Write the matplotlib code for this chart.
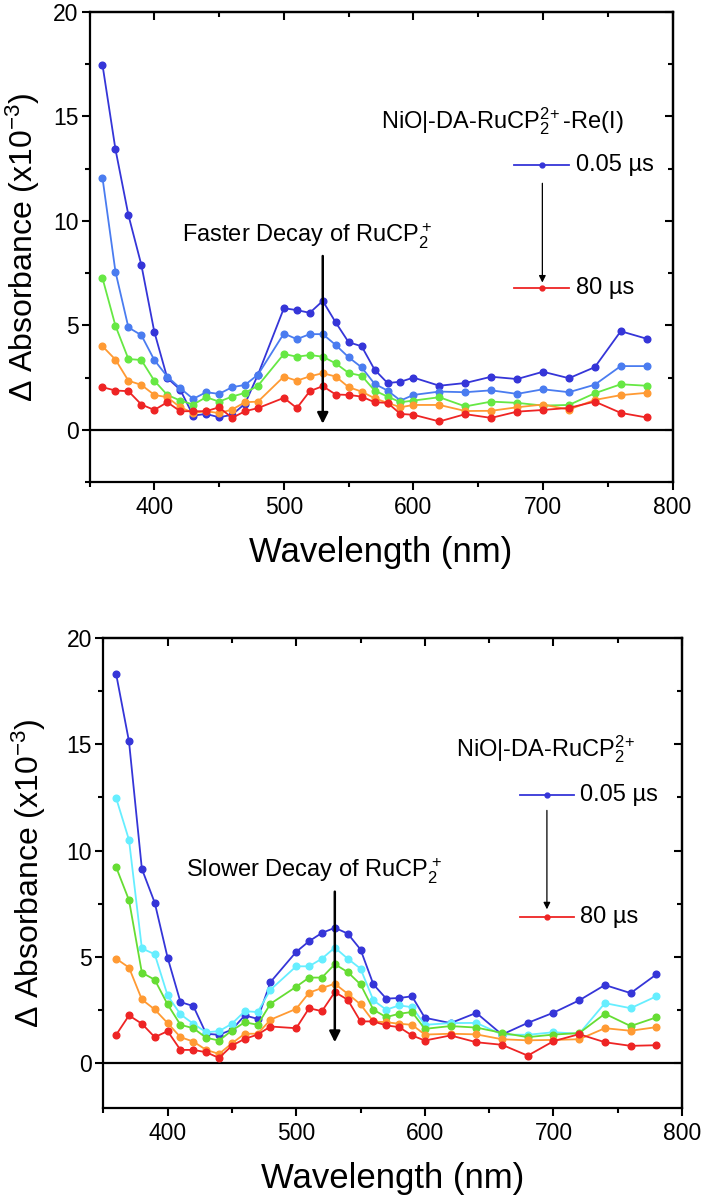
import matplotlib
matplotlib.use("Agg")
import matplotlib.pyplot as plt
from matplotlib.ticker import MultipleLocator

plt.rcParams['font.family'] = ['Liberation Sans', 'DejaVu Sans']
plt.rcParams['mathtext.fontset'] = 'custom'
plt.rcParams['mathtext.rm'] = 'Liberation Sans'

# wavelengths (nm), same grid for both panels
wl = [360, 370, 380, 390, 400, 410, 420, 430, 440, 450, 460, 470, 480,
      500, 510, 520, 530, 540, 550, 560, 570, 580, 590, 600,
      620, 640, 660, 680, 700, 720, 740, 760, 780]

# top panel: NiO|-DA-RuCP2(2+)-Re(I)
top_005 = [17.47, 13.43, 10.28, 7.89, 4.69, 2.48, 1.92, 0.68, 0.76, 0.6, 0.72, 1.25, 2.64,
           5.82, 5.73, 5.6, 6.17, 5.14, 4.19, 4.0, 2.88, 2.24, 2.3, 2.5,
           2.11, 2.24, 2.54, 2.43, 2.78, 2.47, 3.0, 4.72, 4.36]
top_b = [12.06, 7.57, 4.9, 4.53, 3.34, 2.55, 1.99, 1.48, 1.8, 1.72, 2.04, 2.15, 2.64,
         4.61, 4.34, 4.58, 4.58, 4.06, 3.47, 2.99, 2.2, 1.88, 1.4, 1.67,
         1.83, 1.8, 1.89, 1.72, 1.94, 1.8, 2.16, 3.05, 3.05]
top_c = [7.26, 4.98, 3.39, 3.34, 2.35, 1.67, 1.4, 1.21, 1.56, 1.35, 1.59, 1.77, 2.11,
         3.63, 3.5, 3.58, 3.5, 3.18, 2.72, 2.59, 1.88, 1.59, 1.32, 1.4,
         1.56, 1.12, 1.35, 1.29, 1.16, 1.19, 1.75, 2.18, 2.11]
top_d = [4.0, 3.36, 2.35, 2.15, 1.67, 1.56, 1.08, 0.81, 0.89, 0.8, 0.97, 1.32, 1.35,
         2.55, 2.35, 2.56, 2.71, 2.55, 2.04, 1.83, 1.51, 1.29, 1.08, 1.19,
         1.19, 0.9, 0.91, 1.08, 1.21, 0.97, 1.43, 1.66, 1.77]
top_80 = [2.04, 1.88, 1.85, 1.21, 0.95, 1.32, 0.89, 0.89, 0.89, 1.08, 0.57, 0.89, 1.04,
          1.53, 1.04, 1.85, 2.09, 1.69, 1.67, 1.59, 1.32, 1.29, 0.76, 0.72,
          0.4, 0.75, 0.57, 0.87, 0.95, 1.05, 1.35, 0.81, 0.59]

# bottom panel: NiO|-DA-RuCP2(2+)
bot_005 = [18.3, 15.13, 9.14, 7.55, 4.97, 2.88, 2.69, 1.39, 1.34, 1.58, 2.25, 2.09, 3.82,
           5.24, 5.74, 6.13, 6.37, 6.1, 5.35, 3.71, 3.04, 3.07, 3.15, 2.14,
           1.89, 2.37, 1.35, 1.9, 2.38, 2.96, 3.68, 3.3, 4.18]
bot_b = [12.47, 10.5, 5.4, 5.13, 3.19, 2.3, 1.86, 1.46, 1.51, 1.86, 2.45, 2.41, 3.46,
         4.56, 4.56, 4.92, 5.44, 4.92, 4.45, 2.96, 2.52, 2.72, 2.64, 1.81,
         1.89, 1.9, 1.35, 1.34, 1.46, 1.39, 2.83, 2.59, 3.15]
bot_c = [9.22, 7.67, 4.26, 3.93, 2.77, 1.81, 1.65, 1.2, 1.07, 1.54, 1.93, 1.81, 2.8,
         3.6, 4.03, 4.03, 4.66, 4.29, 3.71, 2.52, 2.17, 2.33, 2.41, 1.62,
         1.75, 1.68, 1.43, 1.23, 1.35, 1.42, 2.33, 1.75, 2.16]
bot_d = [4.92, 4.5, 3.0, 2.53, 1.89, 1.23, 1.02, 0.63, 0.44, 0.94, 1.39, 1.39, 2.05,
         2.56, 3.32, 3.54, 3.74, 3.27, 2.77, 1.97, 1.93, 1.86, 1.81, 1.35,
         1.39, 1.36, 1.13, 1.08, 1.1, 1.13, 1.65, 1.53, 1.7]
bot_80 = [1.34, 2.25, 1.86, 1.23, 1.51, 0.63, 0.63, 0.52, 0.25, 0.83, 1.15, 1.35, 1.73,
          1.65, 2.59, 2.45, 3.35, 2.99, 1.97, 1.97, 1.78, 1.7, 1.31, 1.07,
          1.31, 0.99, 0.87, 0.36, 1.04, 1.37, 0.99, 0.82, 0.85]

top_colors = ['#3535d8', '#4a7cf0', '#66e844', '#ff9a33', '#ee2424']
bot_colors = ['#3535d8', '#66eeff', '#66dd33', '#ff9a33', '#ee2424']

TICK_FS = 16.5
ANN_FS = 17


def style_axes(ax, ylow, ylab_x):
    ax.set_xlim(350, 800)
    ax.set_ylim(ylow, 20)
    ax.set_xticks([400, 500, 600, 700, 800])
    ax.set_yticks([0, 5, 10, 15, 20])
    ax.xaxis.set_minor_locator(MultipleLocator(50))
    ax.yaxis.set_minor_locator(MultipleLocator(2.5))
    ax.tick_params(which='major', direction='out', length=6, width=1.5,
                   labelsize=TICK_FS, pad=4)
    ax.tick_params(which='minor', direction='out', length=3.5, width=1.5)
    ax.tick_params(axis='y', pad=2)
    for sp in ax.spines.values():
        sp.set_linewidth(1.6)
    # mirrored ticks pointing inwards on top/right
    sx = ax.secondary_xaxis('top')
    sx.set_xticks([400, 500, 600, 700, 800])
    sx.xaxis.set_minor_locator(MultipleLocator(50))
    sx.tick_params(which='major', direction='in', length=6, width=1.5, labeltop=False)
    sx.tick_params(which='minor', direction='in', length=3.5, width=1.5)
    sy = ax.secondary_yaxis('right')
    sy.set_yticks([0, 5, 10, 15, 20])
    sy.yaxis.set_minor_locator(MultipleLocator(2.5))
    sy.tick_params(which='major', direction='in', length=6, width=1.5, labelright=False)
    sy.tick_params(which='minor', direction='in', length=3.5, width=1.5)
    for s in (sx, sy):
        for sp in s.spines.values():
            sp.set_linewidth(1.6)
    ax.axhline(0, color='k', lw=1.6, zorder=1)
    ax.set_xlabel('Wavelength (nm)', fontsize=25, labelpad=12)
    ax.set_ylabel(r'Δ Absorbance (x10$\mathregular{^{-3}}$)', fontsize=23)
    ax.yaxis.set_label_coords(ylab_x, 0.5)


def draw_panel(ax, series, colors, ylow, ylab_x, title, title_xy, decay_text, decay_xy,
               arrow_top, arrow_tip, leg_x, leg_dot, leg_y, leg_arrow):
    style_axes(ax, ylow, ylab_x)
    for ys, c in zip(series, colors):
        ax.plot(wl, ys, '-o', color=c, lw=1.3, ms=4.8, zorder=3)
    ax.text(title_xy[0], title_xy[1], title, fontsize=ANN_FS, ha='center', va='baseline')
    ax.text(decay_xy[0], decay_xy[1], decay_text, fontsize=ANN_FS, ha='center', va='baseline')
    ax.annotate('', xy=(530, arrow_tip), xytext=(530, arrow_top),
                arrowprops=dict(arrowstyle='-|>', lw=1.8, color='k', mutation_scale=16,
                                shrinkA=0, shrinkB=0), zorder=5)
    # small legend
    ax.plot(leg_x, [leg_y[0], leg_y[0]], color=colors[0], lw=1.3)
    ax.plot([leg_dot], [leg_y[0]], 'o', color=colors[0], ms=3.5)
    ax.plot(leg_x, [leg_y[1], leg_y[1]], color=colors[-1], lw=1.3)
    ax.plot([leg_dot], [leg_y[1]], 'o', color=colors[-1], ms=3.5)
    ax.text(leg_x[1] + 5, leg_y[0], '0.05 µs', fontsize=ANN_FS, va='center')
    ax.text(leg_x[1] + 5, leg_y[1], '80 µs', fontsize=ANN_FS, va='center')
    ax.annotate('', xy=(leg_dot, leg_arrow[1]), xytext=(leg_dot, leg_arrow[0]),
                arrowprops=dict(arrowstyle='-|>', lw=0.9, color='k', mutation_scale=10,
                                shrinkA=0, shrinkB=0))


fig = plt.figure(figsize=(7.05, 12), dpi=100)
ax1 = fig.add_axes([0.127, 0.5983, 0.827, 0.3917])
ax2 = fig.add_axes([0.1465, 0.0767, 0.821, 0.3917])

draw_panel(ax1, [top_005, top_b, top_c, top_d, top_80], top_colors, -2.5, -0.082,
           r'NiO|-DA-RuCP$\mathregular{_2^{2\!+}}$-Re(I)', (669, 14.45),
           r'Faster Decay of RuCP$\mathregular{_2^+}$', (518, 8.96),
           8.32, 0.29, [677.5, 720.3], 699.5, [12.66, 6.79], [11.8, 7.05])

draw_panel(ax2, [bot_005, bot_b, bot_c, bot_d, bot_80], bot_colors, -2.1, -0.095,
           r'NiO|-DA-RuCP$\mathregular{_2^{2\!+}}$', (693.7, 14.43),
           r'Slower Decay of RuCP$\mathregular{_2^+}$', (514, 8.75),
           8.07, 0.99, [673.9, 715.6], 694.9, [12.63, 6.86], [11.89, 7.24])

fig.savefig('out.png', dpi=100)
